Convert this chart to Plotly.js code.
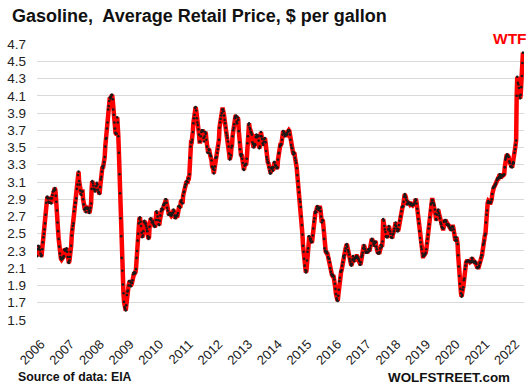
<!DOCTYPE html>
<html>
<head>
<meta charset="utf-8">
<script src="https://cdn.plot.ly/plotly-3.0.1.min.js"></script>
<style>
html,body{margin:0;padding:0;background:#fff;}
#chart{width:530px;height:388px;}
</style>
</head>
<body>
<div id="chart"></div>
<script>
// Weekly US retail gasoline price, $ per gallon (one array per year, weekly, starting first Monday)
const y2006 = [2.24,2.32,2.36,2.33,2.35, 2.31,2.27,2.24,2.25, 2.32,2.40,2.46,2.50, 2.55,2.62,2.72,2.86, 2.92,2.93,2.91,2.87,2.86, 2.86,2.91,2.86,2.85, 2.91,2.95,2.99,3.00,3.00, 3.03,3.01,2.94,2.87, 2.77,2.63,2.53,2.44, 2.35,2.27,2.23,2.21,2.20, 2.21,2.22,2.22,2.24, 2.31,2.32,2.30,2.32];
const y2007 = [2.33,2.29,2.23,2.17,2.16, 2.19,2.23,2.29,2.36, 2.48,2.55,2.59,2.62, 2.76,2.81,2.86,2.86,2.91, 3.02,3.07,3.18,3.22, 3.11,3.07,3.00,2.96, 2.95,2.99,2.99,2.90,2.84, 2.78,2.78,2.80,2.75, 2.79,2.80,2.80,2.79, 2.76,2.74,2.77,2.80,2.85, 3.02,3.11,3.09,3.06, 3.02,3.01,2.99,3.01,3.05];
const y2008 = [3.09,3.07,3.01,2.98, 2.98,2.96,3.04,3.13, 3.16,3.22,3.28,3.26,3.29, 3.33,3.39,3.51,3.60, 3.61,3.72,3.79,3.94, 3.98,4.04,4.08,4.07,4.09, 4.11,4.11,4.06,3.94, 3.88,3.79,3.72,3.67, 3.66,3.66,3.85,3.79,3.63, 3.44,3.19,2.97,2.68, 2.47,2.22,2.07,1.91, 1.81,1.71,1.65,1.63,1.61];
const y2009 = [1.67,1.79,1.83,1.84, 1.90,1.95,1.95,1.90, 1.89,1.93,1.93,1.96,2.03, 2.05,2.05,2.04,2.05, 2.09,2.22,2.30,2.42, 2.50,2.62,2.67,2.69,2.64, 2.59,2.51,2.46,2.48, 2.53,2.64,2.65,2.62,2.62, 2.59,2.56,2.53,2.47, 2.44,2.46,2.58,2.67, 2.68,2.66,2.63,2.63,2.64, 2.61,2.59,2.58,2.59];
const y2010 = [2.66,2.76,2.74,2.70, 2.66,2.61,2.60,2.65, 2.71,2.76,2.79,2.79,2.78, 2.83,2.84,2.84,2.86, 2.90,2.90,2.86,2.80,2.77, 2.72,2.72,2.74,2.73, 2.73,2.71,2.72,2.74, 2.74,2.78,2.76,2.71,2.68, 2.69,2.71,2.71,2.71, 2.74,2.82,2.82,2.81, 2.80,2.87,2.89,2.86,2.85, 2.94,2.98,2.99,3.04];
const y2011 = [3.07,3.07,3.11,3.10,3.10, 3.14,3.14,3.19,3.38, 3.51,3.56,3.56,3.59, 3.68,3.78,3.84,3.88, 3.96,3.97,3.93,3.84,3.79, 3.76,3.71,3.65,3.57, 3.57,3.63,3.68,3.70, 3.70,3.69,3.61,3.57,3.63, 3.68,3.66,3.59,3.51, 3.44,3.44,3.48,3.47,3.43, 3.41,3.40,3.35,3.28, 3.27,3.25,3.20,3.24];
const y2012 = [3.28,3.38,3.38,3.39,3.44, 3.48,3.52,3.59,3.73, 3.79,3.83,3.87,3.90, 3.94,3.94,3.92,3.87,3.82, 3.78,3.73,3.67,3.64, 3.61,3.57,3.51,3.43, 3.36,3.38,3.41,3.50,3.52, 3.63,3.70,3.73,3.77, 3.84,3.86,3.87,3.80, 3.78,3.85,3.82,3.69,3.56, 3.48,3.42,3.40,3.42, 3.37,3.32,3.25,3.24,3.29];
const y2013 = [3.30,3.30,3.31,3.37, 3.55,3.63,3.76,3.78, 3.73,3.71,3.68,3.67, 3.65,3.56,3.54,3.50,3.52, 3.54,3.53,3.62,3.65, 3.62,3.63,3.64,3.58, 3.49,3.51,3.63,3.68,3.63, 3.60,3.55,3.53,3.57, 3.60,3.61,3.56,3.46,3.39, 3.36,3.33,3.32,3.27, 3.23,3.20,3.20,3.26, 3.27,3.25,3.23,3.27,3.33];
const y2014 = [3.33,3.30,3.29,3.28, 3.26,3.27,3.36,3.43, 3.44,3.51,3.53,3.53,3.54, 3.59,3.65,3.69,3.68, 3.66,3.63,3.64,3.66, 3.66,3.65,3.68,3.70,3.70, 3.69,3.65,3.59,3.53, 3.50,3.49,3.45,3.42, 3.44,3.43,3.38,3.35,3.32, 3.26,3.18,3.11,3.04, 2.98,2.90,2.87,2.81, 2.70,2.60,2.49,2.36,2.29];
const y2015 = [2.21,2.13,2.08,2.05, 2.07,2.19,2.29,2.33, 2.47,2.47,2.44,2.42,2.44, 2.40,2.41,2.48,2.56, 2.64,2.68,2.74,2.76, 2.75,2.79,2.82,2.81,2.78, 2.78,2.80,2.80,2.76, 2.70,2.63,2.66,2.65,2.54, 2.44,2.33,2.30,2.29, 2.28,2.29,2.27,2.23, 2.21,2.21,2.17,2.10,2.06, 2.03,2.02,2.01,2.02];
const y2016 = [2.00,1.97,1.92,1.86, 1.80,1.75,1.73,1.72,1.78, 1.85,1.95,1.99,2.06, 2.06,2.08,2.13,2.17, 2.24,2.22,2.25,2.30,2.33, 2.37,2.38,2.35,2.31, 2.29,2.26,2.21,2.18, 2.15,2.13,2.15,2.20,2.24, 2.21,2.18,2.21,2.22, 2.22,2.24,2.24,2.22,2.22, 2.20,2.18,2.14,2.14, 2.17,2.23,2.25,2.28];
const y2017 = [2.33,2.37,2.35,2.32,2.29, 2.28,2.29,2.28,2.29, 2.32,2.32,2.30,2.33, 2.36,2.42,2.44,2.43, 2.41,2.38,2.36,2.39,2.41, 2.40,2.35,2.32,2.28, 2.27,2.28,2.27,2.29,2.33, 2.37,2.37,2.35,2.41, 2.67,2.65,2.59,2.55, 2.52,2.47,2.46,2.46,2.47, 2.55,2.59,2.56,2.53, 2.50,2.46,2.46,2.45];
const y2018 = [2.49,2.50,2.53,2.56,2.60, 2.63,2.59,2.56,2.53, 2.53,2.55,2.60,2.65, 2.70,2.70,2.76,2.81,2.81, 2.82,2.87,2.93,2.96, 2.94,2.92,2.89,2.84, 2.85,2.87,2.86,2.85,2.84, 2.85,2.85,2.83,2.83, 2.83,2.84,2.84,2.85, 2.87,2.90,2.89,2.85,2.79, 2.74,2.67,2.62,2.53, 2.45,2.40,2.35,2.32,2.27];
const y2019 = [2.24,2.24,2.25,2.26, 2.26,2.28,2.32,2.39, 2.44,2.49,2.56,2.61, 2.69,2.77,2.84,2.86,2.89, 2.89,2.86,2.85,2.83, 2.78,2.73,2.67,2.66, 2.72,2.76,2.78,2.74,2.71, 2.68,2.63,2.61,2.58, 2.57,2.56,2.56,2.64,2.65, 2.65,2.66,2.64,2.61, 2.60,2.61,2.60,2.59, 2.57,2.56,2.55,2.54,2.58];
const y2020 = [2.58,2.58,2.55,2.51, 2.46,2.42,2.43,2.46, 2.42,2.38,2.25,2.12,2.01, 1.92,1.86,1.81,1.77, 1.79,1.85,1.88,1.96, 1.98,2.09,2.13,2.17,2.18, 2.18,2.19,2.19,2.18, 2.18,2.17,2.17,2.18,2.22, 2.21,2.18,2.17,2.17, 2.17,2.18,2.16,2.15, 2.11,2.10,2.11,2.11,2.13, 2.16,2.17,2.22,2.25];
const y2021 = [2.25,2.30,2.37,2.39, 2.42,2.48,2.50,2.63, 2.72,2.77,2.86,2.88,2.86, 2.86,2.86,2.86,2.87, 2.90,2.96,3.03,3.04,3.04, 3.05,3.07,3.07,3.09, 3.12,3.14,3.14,3.14, 3.16,3.19,3.18,3.15,3.16, 3.18,3.17,3.18,3.18, 3.19,3.27,3.36,3.38, 3.40,3.42,3.41,3.40,3.39, 3.34,3.32,3.28,3.28];
const y2022 = [3.28,3.27,3.31,3.33,3.32, 3.44,3.48,3.53,3.58, 4.10,4.32,4.25,4.23, 4.19,4.10,4.07,4.11, 4.20,4.33,4.48,4.60];

const years = [2006,2007,2008,2009,2010,2011,2012,2013,2014,2015,2016,2017,2018,2019,2020,2021,2022];
const yearData = [y2006,y2007,y2008,y2009,y2010,y2011,y2012,y2013,y2014,y2015,y2016,y2017,y2018,y2019,y2020,y2021,y2022];
const tickLabels = ['2006','2007','2008','2009','2010','2011','2012','2013','2014','2015','2016','2017','2018','2019','2020','2021','2022'];

function iso(d){ return d.toISOString().slice(0,10); }
const xs = [], ys = [];
years.forEach((yr, k) => {
  const d = new Date(Date.UTC(yr, 0, 1));
  while (d.getUTCDay() !== 1) d.setUTCDate(d.getUTCDate() + 1);
  yearData[k].forEach(v => {
    xs.push(iso(d)); ys.push(v);
    d.setUTCDate(d.getUTCDate() + 7);
  });
});

const trace = {
  x: xs, y: ys, type: 'scatter', mode: 'lines+markers',
  line: {color: '#ff0000', width: 4.5},
  marker: {color: '#1a1a1a', size: 2.6},
  hoverinfo: 'skip'
};

const FONT = 'Liberation Sans, Arial, sans-serif';
const layout = {
  width: 530, height: 388,
  margin: {l: 37, r: 6, t: 44, b: 68},
  paper_bgcolor: '#ffffff', plot_bgcolor: '#ffffff',
  showlegend: false,
  font: {family: FONT, color: '#222222'},
  title: {
    text: '<b>Gasoline,  Average Retail Price, $ per gallon</b>',
    x: 12/530, xanchor: 'left', xref: 'container',
    y: 1 - 16/388, yanchor: 'middle', yref: 'container',
    font: {family: FONT, size: 18, color: '#111111'}
  },
  xaxis: {
    type: 'date',
    range: ['2006-01-01', '2022-06-05'],
    tickvals: years.map(y => y + '-01-01'),
    ticktext: tickLabels,
    tickangle: -45,
    showgrid: false, zeroline: false, showline: false,
    ticks: '', ticklabelstandoff: 13, ticklabelshift: 4,
    tickfont: {size: 13, color: '#222222'}
  },
  yaxis: {
    range: [1.4995, 4.7005],
    tick0: 1.5, dtick: 0.2, tickformat: '.1f',
    showgrid: true, gridcolor: '#d9d9d9', gridwidth: 1,
    zeroline: false, showline: false,
    ticks: '', ticklabelstandoff: 10,
    tickfont: {size: 13.5, color: '#222222'}
  },
  annotations: [
    {text: '<b>WTF</b>', xref: 'paper', yref: 'paper', x: (529-37)/487, xanchor: 'right', y: 1 + (44-39)/276, yanchor: 'middle', showarrow: false,
     font: {family: FONT, size: 15.5, color: '#ff0000'}},
    {text: '<b>Source of data: EIA</b>', xref: 'paper', yref: 'paper', x: (16-37)/487, xanchor: 'left', y: -(377-320)/276, yanchor: 'middle', showarrow: false,
     font: {family: FONT, size: 12.3, color: '#111111'}},
    {text: '<b>WOLFSTREET.com</b>', xref: 'paper', yref: 'paper', x: (512-37)/487, xanchor: 'right', y: -(377-320)/276, yanchor: 'middle', showarrow: false,
     font: {family: FONT, size: 13.4, color: '#111111'}}
  ]
};

Plotly.newPlot('chart', [trace], layout, {staticPlot: true, displayModeBar: false});
</script>
</body>
</html>
